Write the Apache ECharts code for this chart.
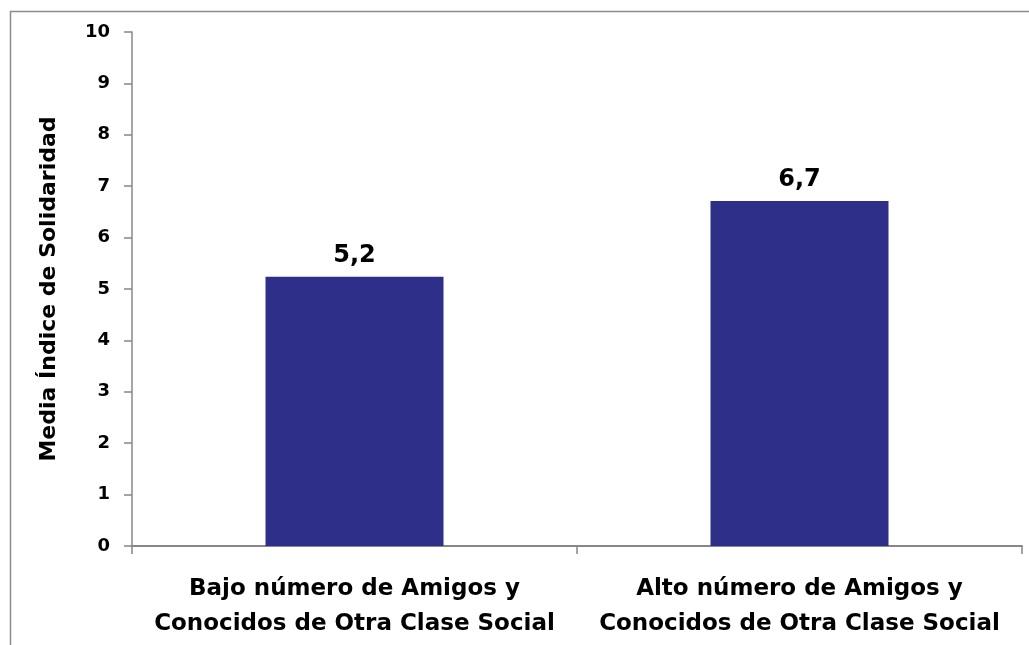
<!DOCTYPE html>
<html>
<head>
<meta charset="utf-8">
<script src="https://cdn.jsdelivr.net/npm/echarts@6/dist/echarts.min.js"></script>
<style>
  html, body { margin: 0; padding: 0; background: #fff; }
  #chart { width: 1029px; height: 645px; }
</style>
</head>
<body>
<div id="chart"></div>
<script>
  // datos
  var categorias = [
    'Bajo número de Amigos y\nConocidos de Otra Clase Social',
    'Alto número de Amigos y\nConocidos de Otra Clase Social'
  ];
  var medias = [5.24, 6.71];
  var yTitulo = 'Media Índice de Solidaridad';

  var fuente = '"DejaVu Sans", sans-serif';
  var myChart = echarts.init(document.getElementById('chart'));

  myChart.setOption({
    animation: false,
    graphic: [{
      type: 'rect',
      shape: { x: 10.5, y: 11.5, width: 1100, height: 700 },
      style: { fill: 'none', stroke: '#8c8c8c', lineWidth: 1.5 },
      silent: true
    }],
    grid: { left: 132, top: 32, right: 7, bottom: 99 },
    xAxis: {
      type: 'category',
      data: categorias,
      axisLine: { lineStyle: { color: '#878787', width: 2 } },
      axisTick: { show: true, length: 8, lineStyle: { color: '#878787', width: 1.5 } },
      axisLabel: {
        margin: 26,
        interval: 0,
        color: '#000',
        fontFamily: fuente,
        fontWeight: 'bold',
        fontSize: 23,
        lineHeight: 35
      }
    },
    yAxis: {
      type: 'value',
      min: 0,
      max: 10,
      interval: 1,
      name: yTitulo,
      nameLocation: 'middle',
      nameGap: 72,
      nameTextStyle: { color: '#000', fontFamily: fuente, fontWeight: 'bold', fontSize: 22 },
      splitLine: { show: false },
      axisLine: { show: true, lineStyle: { color: '#878787', width: 1.5 } },
      axisTick: { show: true, length: 8, lineStyle: { color: '#878787', width: 1.5 } },
      axisLabel: {
        margin: 22,
        color: '#000',
        fontFamily: fuente,
        fontWeight: 'bold',
        fontSize: 18
      }
    },
    series: [{
      type: 'bar',
      data: medias,
      barWidth: '40%',
      itemStyle: { color: '#2E2F89' },
      label: {
        show: true,
        position: 'top',
        distance: 9,
        color: '#000',
        fontFamily: fuente,
        fontWeight: 'bold',
        fontSize: 24,
        formatter: function (p) { return p.value.toFixed(1).replace('.', ','); }
      }
    }]
  });
</script>
</body>
</html>
